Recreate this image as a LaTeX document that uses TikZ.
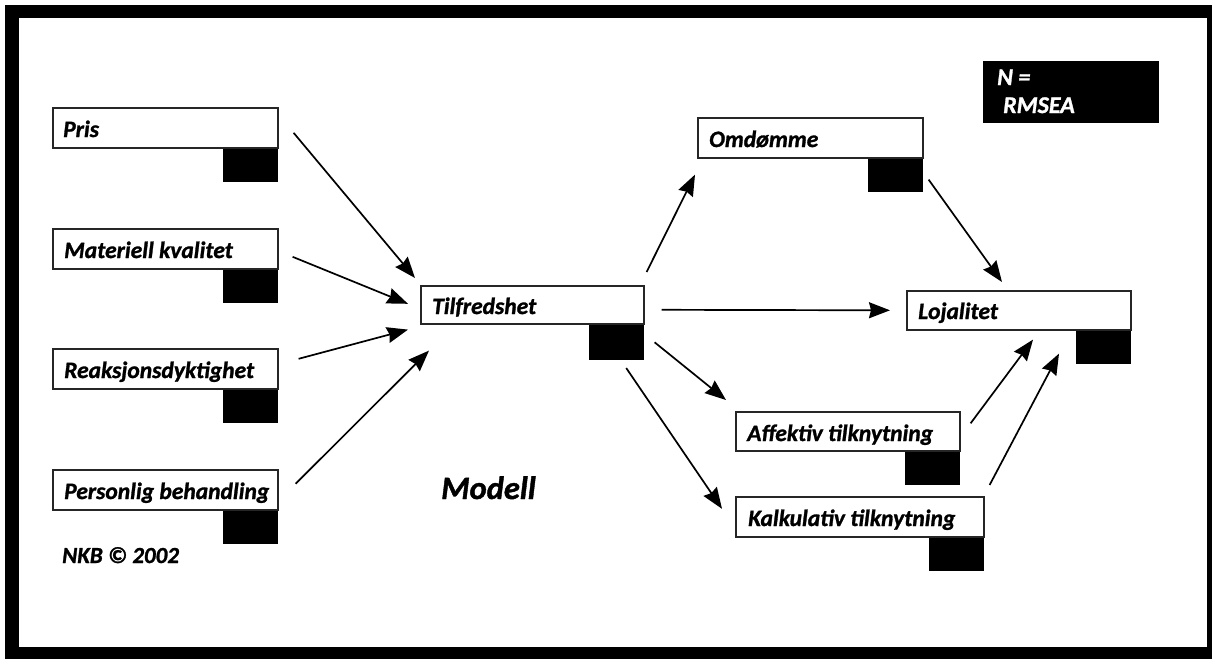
\documentclass[tikz,border=0pt]{standalone}
\usepackage{fontspec}
\setmainfont{Carlito}[BoldItalicFeatures={FakeBold=1.2}]
\usetikzlibrary{calc,arrows.meta}
\tikzset{
  box/.style={draw=black!85, line width=1.6pt, fill=white, minimum width=225pt, minimum height=40pt, anchor=north west, inner sep=0pt},
  blk/.style={fill=black, minimum width=55pt, minimum height=33pt, anchor=north east, inner sep=0pt},
  lbl/.style={anchor=base west, inner sep=0pt, font=\fontsize{23.5}{25}\selectfont\bfseries\itshape},
  arr/.style={line width=1.7pt, -{Stealth[length=21pt, width=16pt, inset=2pt]}}
}
\begin{document}
\begin{tikzpicture}[x=1pt,y=-1pt]
\useasboundingbox (0,0) rectangle (1212,659);
\fill[black] (5,5) rectangle (1212,659);
\fill[white] (19,18) rectangle (1207,647);

% left column
\node[box] (pris) at (52,107) {};
\node[blk] (prisB) at (pris.south east) {};
\node[lbl] (prisL) at ($(pris.north west)+(11,30)$) {Pris};

\node[box] (mat) at (52,228) {};
\node[blk] (matB) at (mat.south east) {};
\node[lbl] (matL) at ($(mat.north west)+(12,30)$) {Materiell kvalitet};

\node[box] (reak) at (52,348) {};
\node[blk] (reakB) at (reak.south east) {};
\node[lbl] (reakL) at ($(reak.north west)+(12,30)$) {Reaksjonsdyktighet};

\node[box] (pers) at (52,469) {};
\node[blk] (persB) at (pers.south east) {};
\node[lbl] (persL) at ($(pers.north west)+(12,30)$) {Personlig behandling};

% centre
\node[box, minimum width=223pt, minimum height=38pt] (tilf) at (420,285) {};
\node[blk, minimum height=35pt] (tilfB) at (tilf.south east) {};
\node[lbl] (tilfL) at ($(tilf.north west)+(12,29)$) {Tilfredshet};

% right
\node[box] (omd) at (697,117) {};
\node[blk] (omdB) at (omd.south east) {};
\node[lbl] (omdL) at ($(omd.north west)+(12,30)$) {Omdømme};

\node[box, minimum width=224pt, minimum height=39pt] (loj) at (906,290) {};
\node[blk] (lojB) at (loj.south east) {};
\node[lbl] (lojL) at ($(loj.north west)+(12,29)$) {Lojalitet};

\node[box, minimum width=224pt, minimum height=39pt] (aff) at (735,411) {};
\node[blk] (affB) at (aff.south east) {};
\node[lbl] (affL) at ($(aff.north west)+(12,30)$) {Affektiv tilknytning};

\node[box, minimum width=248pt] (kalk) at (735,496) {};
\node[blk] (kalkB) at (kalk.south east) {};
\node[lbl] (kalkL) at ($(kalk.north west)+(13,30)$) {Kalkulativ tilknytning};

% legend box
\node[fill=black, minimum width=176pt, minimum height=62pt, anchor=north west, inner sep=0pt] (leg) at (983,61) {};
\node[lbl, text=white, font=\fontsize{24}{26}\selectfont\bfseries\itshape] (legA) at ($(leg.north west)+(14,24)$) {N =};
\node[lbl, text=white, font=\fontsize{24}{26}\selectfont\bfseries\itshape] (legB) at ($(leg.north west)+(20,52)$) {RMSEA};

% texts
\node[lbl, font=\fontsize{32.5}{34}\selectfont\bfseries\itshape] (modell) at (441,499) {Modell};
\node[lbl, font=\fontsize{23}{25}\selectfont\bfseries\itshape] (nkb) at (62,563) {NKB © 2002};

% arrows
\draw[arr] ($(pris.east)+(15,5)$) -- ($(tilf.north west)+(-5,-7)$);
\draw[arr] ($(mat.east)+(14,8)$) -- ($(tilf.west)+(-12,-1)$);
\draw[arr] ($(reak.east)+(20,-10)$) -- ($(tilf.south west)+(-12,5)$);
\draw[arr] ($(pers.east)+(17,-6)$) -- ($(tilf.south west)+(9,26)$);

\draw[arr] ($(tilf.north east)+(2,-13)$) -- ($(omd.south west)+(-2,16)$);
\draw[arr] ($(tilf.east)+(17,5)$) -- ($(loj.west)+(-16,0)$);
\draw[arr] ($(tilfB.east)+(10,0)$) -- ($(aff.north west)+(-9,-11)$);
\draw[arr] ($(tilfB.south west)+(37,8)$) -- ($(kalk.west)+(-13,-8)$);

\draw[arr] ($(omd.south east)+(5,21)$) -- ($(loj.north west)+(96,-8)$);
\draw[arr] ($(aff.east)+(10,-8)$) -- ($(loj.south west)+(127,9)$);
\draw[arr] ($(kalk.north east)+(5,-11)$) -- ($(loj.south west)+(153,23)$);
\end{tikzpicture}
\end{document}
